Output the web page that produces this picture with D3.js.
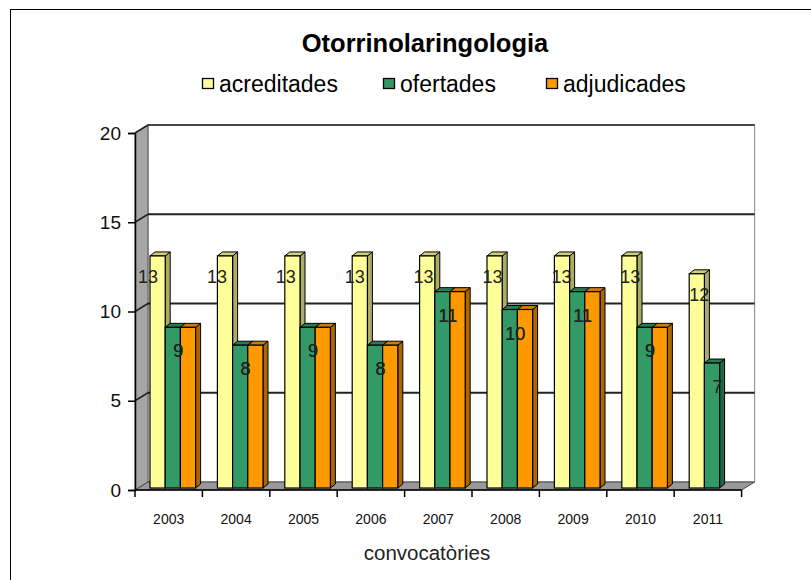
<!DOCTYPE html>
<html>
<head>
<meta charset="utf-8">
<script src="https://cdn.jsdelivr.net/npm/d3@7"></script>
<style>
  html, body { margin: 0; padding: 0; background: #fff; }
  svg { display: block; font-family: Arial, "Liberation Sans", sans-serif; }
</style>
</head>
<body>
<svg id="chart" width="811" height="580"></svg>
<script>
// Places per year of the Otorrinolaringologia call
const years = ["2003", "2004", "2005", "2006", "2007", "2008", "2009", "2010", "2011"];
const acreditades = [13, 13, 13, 13, 13, 13, 13, 13, 12];
const ofertades   = [9, 8, 9, 8, 11, 10, 11, 9, 7];
const adjudicades = [9, 8, 9, 8, 11, 10, 11, 9, null];
const seriesNames = ["acreditades", "ofertades", "adjudicades"];
const seriesColors = ["#FFFF99", "#339966", "#FF9900"];
const yTicks = [0, 5, 10, 15, 20];

const svg = d3.select("#chart");

// outer frame (only the top and left edges fall inside the page)
svg.append("rect").attr("x", 10.5).attr("y", 9.5).attr("width", 840).attr("height", 620)
  .attr("fill", "#fff").attr("stroke", "#000").attr("stroke-width", 1);

// 3D projection: depth shift of the back wall
const DX = 13, DY = -8;
const x = d3.scaleBand().domain(years).range([135, 135 + 9 * 67.4]);
const yFront = d3.scaleLinear().domain([0, 20]).range([490, 133]);
const yBar = d3.scaleLinear().domain([0, 20]).range([488, 131]);
const x0 = x.range()[0], x1 = x.range()[1];

// back wall
svg.append("rect")
  .attr("x", x0 + DX).attr("y", yFront(20) + DY)
  .attr("width", x1 - x0).attr("height", yFront(0) - yFront(20))
  .attr("fill", "#fff").attr("stroke", "#9a9a9a").attr("stroke-width", 1.2);

// left wall
svg.append("path")
  .attr("d", `M${x0},${yFront(20)} L${x0 + DX},${yFront(20) + DY} L${x0 + DX},${yFront(0) + DY} L${x0},${yFront(0)} Z`)
  .attr("fill", "#a6a6a6").attr("stroke", "#555").attr("stroke-width", 1);

// floor
svg.append("path")
  .attr("d", `M${x0},${yFront(0)} L${x0 + DX},${yFront(0) + DY} L${x1 + DX},${yFront(0) + DY} L${x1},${yFront(0)} Z`)
  .attr("fill", "#999").attr("stroke", "#444").attr("stroke-width", 1);

// gridlines: along the back wall and across the left wall
const grid = svg.append("g");
yTicks.filter(v => v > 0).forEach(v => {
  grid.append("line")
    .attr("x1", x0 + DX).attr("x2", x1 + DX)
    .attr("y1", yFront(v) + DY).attr("y2", yFront(v) + DY)
    .attr("stroke", v === 20 ? "#444" : "#222").attr("stroke-width", 2);
  grid.append("line")
    .attr("x1", x0).attr("y1", yFront(v))
    .attr("x2", x0 + DX).attr("y2", yFront(v) + DY)
    .attr("stroke", "#222").attr("stroke-width", 1.5);
});

// y axis on the front edge
const yAxis = svg.append("g").attr("transform", `translate(${x0},0)`)
  .call(d3.axisLeft(yFront).tickValues(yTicks).tickSize(7).tickPadding(7).tickFormat(d3.format("d")));
yAxis.select(".domain").attr("stroke", "#000").attr("stroke-width", 1.5);
yAxis.selectAll(".tick line").attr("stroke", "#000").attr("stroke-width", 1.5);
yAxis.selectAll(".tick text").attr("font-size", 19).attr("fill", "#111")
  .attr("font-family", "Arial, 'Liberation Sans', sans-serif");

// x axis: front edge of the floor, ticks at category boundaries
svg.append("line").attr("x1", x0).attr("x2", x1).attr("y1", yFront(0)).attr("y2", yFront(0))
  .attr("stroke", "#000").attr("stroke-width", 1.5);
const bounds = years.map(d => x(d)).concat([x1]);
svg.append("g").selectAll("line").data(bounds).join("line")
  .attr("x1", d => d).attr("x2", d => d)
  .attr("y1", yFront(0)).attr("y2", yFront(0) + 7)
  .attr("stroke", "#000").attr("stroke-width", 1.5);
const xAxis = svg.append("g").attr("transform", `translate(0,${yFront(0) + 21})`)
  .call(d3.axisBottom(x).tickSize(0));
xAxis.select(".domain").remove();
xAxis.selectAll(".tick text").attr("font-size", 14).attr("fill", "#111")
  .attr("font-family", "Arial, 'Liberation Sans', sans-serif");

// bars with front, side and top faces
const BW = 15.2, BD = 5, BH = 4, GAP = 15;
const seriesData = [acreditades, ofertades, adjudicades];
const bars = svg.append("g");
seriesData.forEach((vals, s) => {
  const base = d3.color(seriesColors[s]);
  const side = base.darker(1.1).formatHex();
  const top = base.darker(0.6).formatHex();
  vals.forEach((v, i) => {
    if (v == null) return;
    const left = x(years[i]) + GAP + s * BW;
    const right = left + BW;
    const t = yBar(v), b = yBar(0);
    bars.append("path")
      .attr("d", `M${right},${b} L${right + BD},${b - BH} L${right + BD},${t - BH} L${right},${t} Z`)
      .attr("fill", side).attr("stroke", "#000").attr("stroke-width", 1).attr("stroke-linejoin", "round");
    bars.append("path")
      .attr("d", `M${left},${t} L${left + BD},${t - BH} L${right + BD},${t - BH} L${right},${t} Z`)
      .attr("fill", top).attr("stroke", "#000").attr("stroke-width", 1).attr("stroke-linejoin", "round");
    bars.append("rect")
      .attr("x", left).attr("y", t).attr("width", BW).attr("height", b - t)
      .attr("fill", base.formatHex()).attr("stroke", "#000").attr("stroke-width", 1.2);
  });
});

// value labels
const labels = svg.append("g").attr("font-size", 18).attr("fill", "#222")
  .attr("text-anchor", "middle").attr("font-family", "Arial, 'Liberation Sans', sans-serif");
acreditades.forEach((v, i) => {
  labels.append("text")
    .attr("x", x(years[i]) + GAP - 2 + i * 1.5)
    .attr("y", yBar(v) + 27)
    .text(v);
});
[ofertades, adjudicades].forEach(vals => {
  vals.forEach((v, i) => {
    if (v == null) return;
    labels.append("text")
      .attr("x", x(years[i]) + GAP + BW + 13)
      .attr("y", yBar(ofertades[i]) + 30)
      .text(v);
  });
});

// title
svg.append("text").attr("x", 425).attr("y", 52).attr("text-anchor", "middle")
  .attr("font-size", 25.5).attr("font-weight", "bold").attr("fill", "#000")
  .text("Otorrinolaringologia");

// legend
const legendX = [202, 383, 546];
const legend = svg.append("g");
seriesNames.forEach((name, s) => {
  legend.append("rect").attr("x", legendX[s] + 0.5).attr("y", 78.5).attr("width", 11).attr("height", 10)
    .attr("fill", seriesColors[s]).attr("stroke", "#000").attr("stroke-width", 1.3);
  legend.append("text").attr("x", legendX[s] + 17).attr("y", 92)
    .attr("font-size", 23).attr("fill", "#000").text(name);
});

// axis title
svg.append("text").attr("x", 427).attr("y", 560).attr("text-anchor", "middle")
  .attr("font-size", 20.5).attr("fill", "#222").text("convocatòries");
</script>
</body>
</html>
